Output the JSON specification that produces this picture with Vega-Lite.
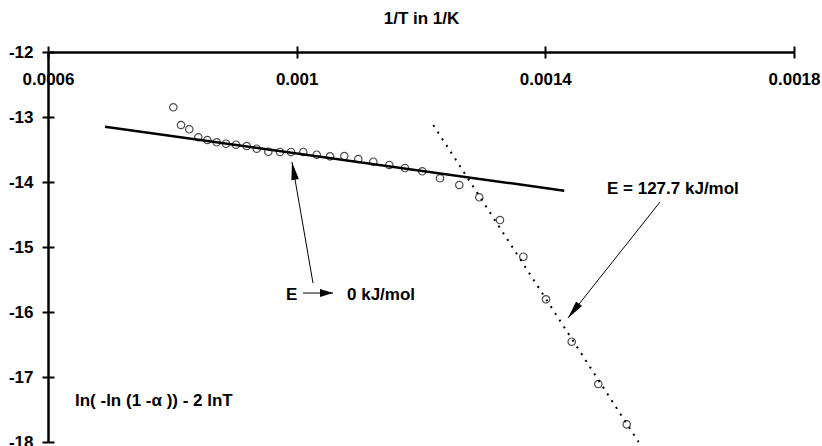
{
  "$schema": "https://vega.github.io/schema/vega-lite/v6.json",
  "width": 746,
  "height": 390,
  "autosize": {"type": "none"},
  "padding": {"left": 48, "top": 52, "right": 28, "bottom": 4},
  "background": "white",
  "config": {
    "view": {"stroke": null},
    "font": "Liberation Sans",
    "text": {"font": "Liberation Sans", "fontWeight": "bold", "fontSize": 17, "color": "black"},
    "axis": {
      "domainColor": "black",
      "tickColor": "black",
      "labelColor": "black",
      "titleColor": "black",
      "labelFont": "Liberation Sans",
      "titleFont": "Liberation Sans",
      "labelFontWeight": "bold",
      "titleFontWeight": "bold",
      "labelFontSize": 17,
      "titleFontSize": 17,
      "grid": false
    }
  },
  "datasets": {
    "measured": [
      {"x": 0.00080156, "y": -12.851},
      {"x": 0.00081394, "y": -13.123},
      {"x": 0.00082729, "y": -13.189},
      {"x": 0.00084177, "y": -13.312},
      {"x": 0.00085625, "y": -13.354},
      {"x": 0.00087137, "y": -13.389},
      {"x": 0.00088633, "y": -13.411},
      {"x": 0.00090241, "y": -13.426},
      {"x": 0.00091963, "y": -13.446},
      {"x": 0.00093571, "y": -13.488},
      {"x": 0.00095437, "y": -13.534},
      {"x": 0.00097319, "y": -13.538},
      {"x": 0.00099088, "y": -13.538},
      {"x": 0.00101067, "y": -13.538},
      {"x": 0.00103223, "y": -13.58},
      {"x": 0.00105361, "y": -13.605},
      {"x": 0.00107662, "y": -13.6},
      {"x": 0.00109914, "y": -13.646},
      {"x": 0.00112327, "y": -13.688},
      {"x": 0.00114901, "y": -13.738},
      {"x": 0.00117426, "y": -13.785},
      {"x": 0.00120209, "y": -13.835},
      {"x": 0.00123056, "y": -13.943},
      {"x": 0.0012616, "y": -14.046},
      {"x": 0.00129377, "y": -14.235},
      {"x": 0.00132707, "y": -14.585},
      {"x": 0.00136456, "y": -15.149},
      {"x": 0.00140107, "y": -15.805},
      {"x": 0.00144241, "y": -16.457},
      {"x": 0.0014852, "y": -17.108},
      {"x": 0.00153088, "y": -17.728}
    ],
    "fitLow": [
      {"x": 0.00069169, "y": -13.149},
      {"x": 0.00143051, "y": -14.134}
    ],
    "fitHigh": [
      {"x": 0.00121979, "y": -13.123},
      {"x": 0.00155, "y": -18.0}
    ],
    "pointers": [
      {"name": "high", "x": 0.00158445, "y": -14.308, "x2": 0.00143646, "y2": -16.092},
      {"name": "low", "x": 0.00102627, "y": -15.554, "x2": 0.00099249, "y2": -13.692},
      {"name": "arrow", "x": 0.00101019, "y": -15.708, "x2": 0.00105845, "y2": -15.708}
    ],
    "notes": [
      {"x": 0.0014992, "y": -14.108, "label": "E = 127.7 kJ/mol"},
      {"x": 0.00098284, "y": -15.738, "label": "E"},
      {"x": 0.00108097, "y": -15.738, "label": "0 kJ/mol"},
      {"x": 0.00064343, "y": -17.369, "label": "ln( -ln (1 -α )) - 2 lnT"}
    ]
  },
  "encoding": {
    "x": {"field": "x", "type": "quantitative", "scale": {"domain": [0.0006, 0.0018], "nice": false, "zero": false}, "axis": null},
    "y": {"field": "y", "type": "quantitative", "scale": {"domain": [-18, -12], "nice": false, "zero": false}, "axis": null}
  },
  "layer": [
    {
      "data": {"name": "fitLow"},
      "mark": {"type": "line", "color": "black", "strokeWidth": 2.5},
      "encoding": {
        "x": {"field": "x", "type": "quantitative", "scale": {"domain": [0.0006, 0.0018], "nice": false, "zero": false},
          "axis": {"orient": "top", "values": [0.0006, 0.001, 0.0014, 0.0018], "format": "~g", "title": "1/T in 1/K",
            "domainWidth": 2.5, "tickWidth": 2, "tickSize": 6, "labelPadding": -33, "labelBaseline": "middle",
            "labelFlush": false, "labelOverlap": false, "labelBound": false, "titlePadding": 18}},
        "y": {"field": "y", "type": "quantitative", "scale": {"domain": [-18, -12], "nice": false, "zero": false},
          "axis": {"orient": "left", "values": [-12, -13, -14, -15, -16, -17, -18], "title": null,
            "labelExpr": "'' + datum.value",
            "domainWidth": 2.5, "tickWidth": 2, "tickSize": 6, "labelPadding": 9, "labelBaseline": "middle",
            "labelFlush": false, "labelOverlap": false, "labelBound": false}}
      }
    },
    {
      "data": {"name": "fitHigh"},
      "mark": {"type": "line", "color": "black", "strokeWidth": 2, "strokeDash": [2, 6]},
      "encoding": {
        "x": {"field": "x", "type": "quantitative", "scale": {"domain": [0.0006, 0.0018], "nice": false, "zero": false},
          "axis": {"orient": "top", "values": [0.0006, 0.001, 0.0014, 0.0018], "offset": -6, "tickSize": 6, "tickWidth": 2,
            "domain": false, "labels": false, "title": null}},
        "y": {"field": "y", "type": "quantitative", "scale": {"domain": [-18, -12], "nice": false, "zero": false},
          "axis": {"orient": "left", "values": [-12, -13, -14, -15, -16, -17, -18], "offset": -6, "tickSize": 6, "tickWidth": 2,
            "domain": false, "labels": false, "title": null}}
      }
    },
    {
      "data": {"name": "measured"},
      "mark": {"type": "point", "shape": "circle", "filled": false, "color": "black", "strokeWidth": 1.2, "size": 55}
    },
    {
      "data": {"name": "pointers"},
      "mark": {"type": "rule", "color": "black", "strokeWidth": 1},
      "encoding": {
        "x2": {"field": "x2"},
        "y2": {"field": "y2"},
        "strokeWidth": {"condition": {"test": "datum.name === 'arrow'", "value": 2}, "value": 1}
      }
    },
    {
      "data": {"name": "pointers"},
      "transform": [{"filter": "datum.name === 'high'"}],
      "mark": {"type": "point", "shape": "M0,0L-0.42,2L0.42,2Z", "filled": true, "color": "black", "size": 324, "angle": 218, "opacity": 1},
      "encoding": {"x": {"field": "x2", "type": "quantitative"}, "y": {"field": "y2", "type": "quantitative"}}
    },
    {
      "data": {"name": "pointers"},
      "transform": [{"filter": "datum.name === 'low'"}],
      "mark": {"type": "point", "shape": "M0,0L-0.42,2L0.42,2Z", "filled": true, "color": "black", "size": 324, "angle": 350, "opacity": 1},
      "encoding": {"x": {"field": "x2", "type": "quantitative"}, "y": {"field": "y2", "type": "quantitative"}}
    },
    {
      "data": {"name": "pointers"},
      "transform": [{"filter": "datum.name === 'arrow'"}],
      "mark": {"type": "point", "shape": "M0,0L-0.6,2L0.6,2Z", "filled": true, "color": "black", "size": 169, "angle": 90, "opacity": 1},
      "encoding": {"x": {"field": "x2", "type": "quantitative"}, "y": {"field": "y2", "type": "quantitative"}}
    },
    {
      "data": {"name": "notes"},
      "mark": {"type": "text", "align": "left", "baseline": "middle"},
      "encoding": {"text": {"field": "label"}}
    }
  ],
  "resolve": {"axis": {"x": "independent", "y": "independent"}}
}
